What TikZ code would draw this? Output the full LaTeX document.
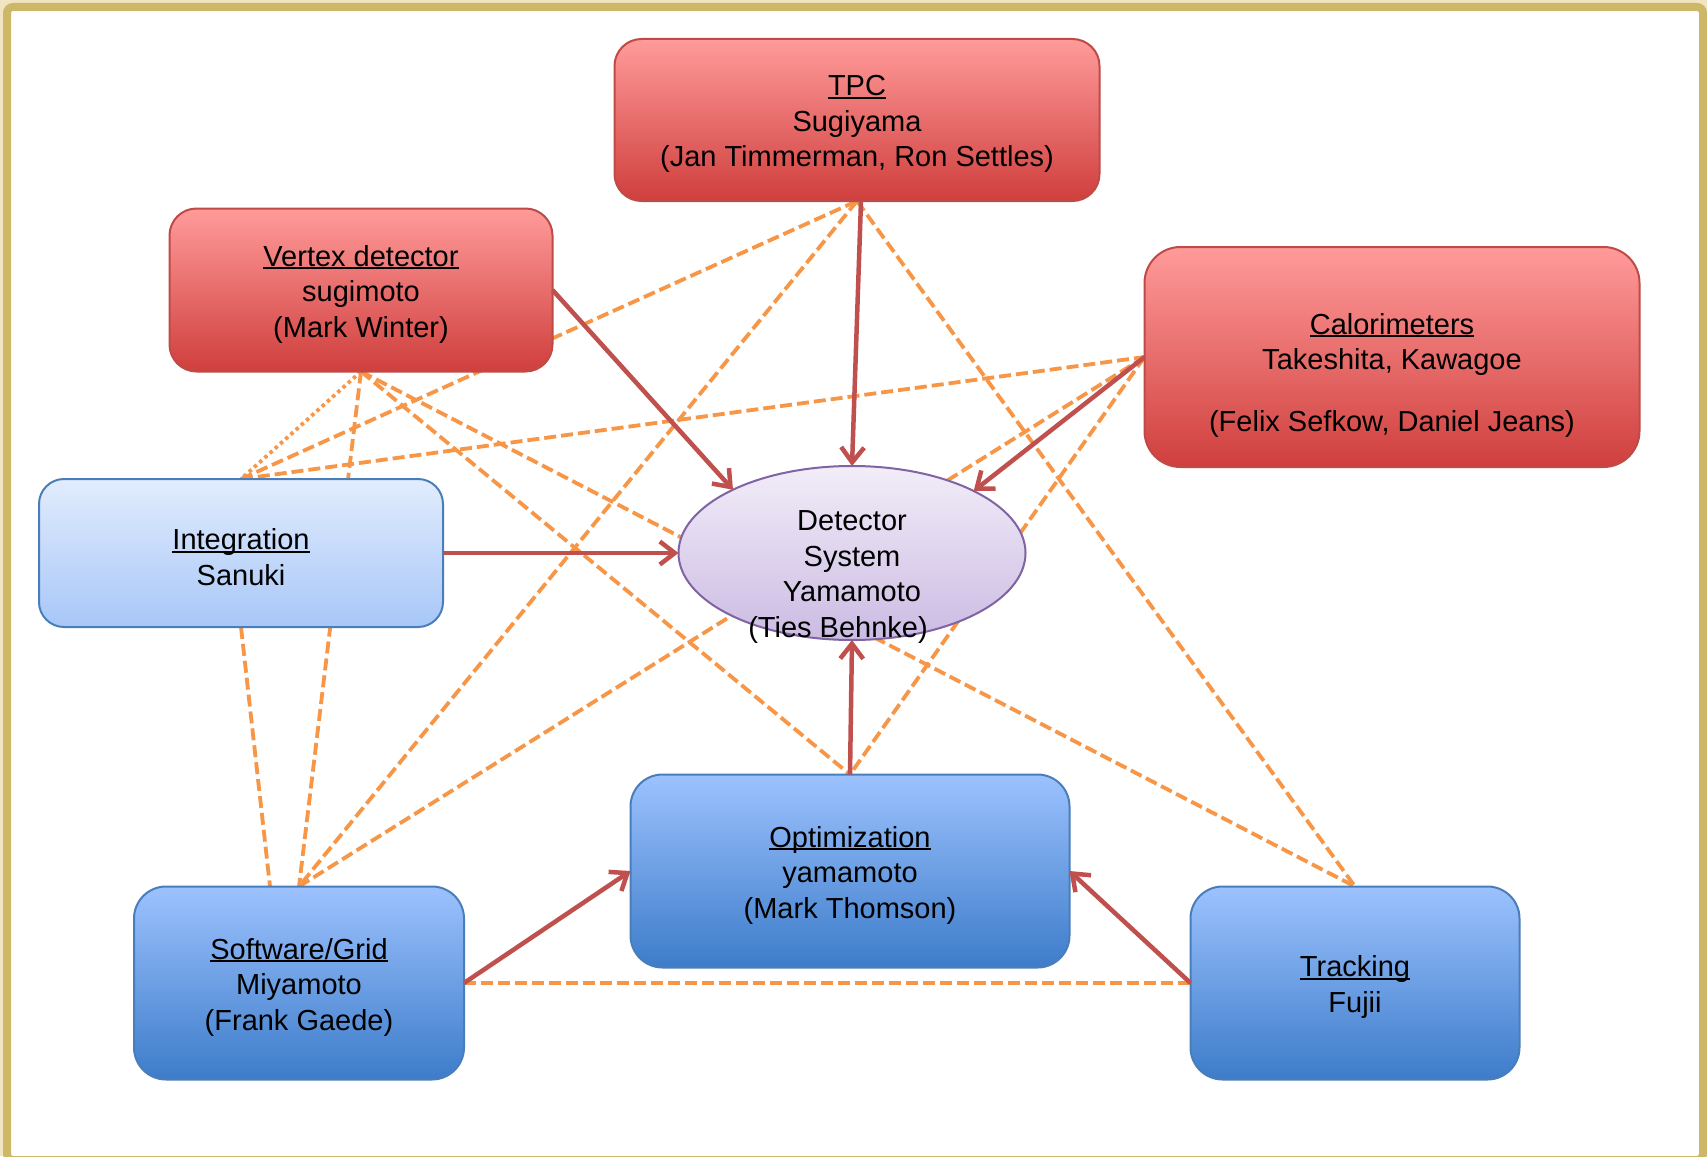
\documentclass[tikz,border=0pt]{standalone}
\usepackage{fontspec}
\setmainfont{Liberation Sans}
\usetikzlibrary{arrows.meta,shapes.geometric,calc}
\definecolor{redtop}{HTML}{FF9B9A}
\definecolor{redbot}{HTML}{CF3F3D}
\definecolor{redline}{HTML}{BE4B48}
\definecolor{bluetop}{HTML}{9CC2FE}
\definecolor{bluebot}{HTML}{3D7CCA}
\definecolor{blueline}{HTML}{4A7EBB}
\definecolor{inttop}{HTML}{E2ECFD}
\definecolor{intbot}{HTML}{A7C7F8}
\definecolor{elltop}{HTML}{F2EDF8}
\definecolor{ellbot}{HTML}{CBBBE3}
\definecolor{ellline}{HTML}{7F63A2}
\definecolor{arrowred}{HTML}{C0504D}
\definecolor{dashorange}{HTML}{F79646}
\definecolor{framegold}{HTML}{CDB868}
\definecolor{paper}{HTML}{F2E3C3}
\newsavebox\ulbox
\newcommand{\myul}[1]{\rule{0pt}{29pt}\sbox\ulbox{#1}\rlap{\rule[-3pt]{\wd\ulbox}{2pt}}\usebox\ulbox}
\pgfdeclarelayer{framelayer}
\pgfdeclarelayer{links}
\pgfdeclarelayer{arrowlayer}
\pgfsetlayers{framelayer,links,main,arrowlayer}
\tikzset{
  boxbase/.style={line width=2pt, inner sep=0pt, outer sep=0pt, align=center},
  redbox/.style={boxbase, draw=redline, top color=redtop, bottom color=redbot, rounded corners=27pt},
  bluebox/.style={boxbase, draw=blueline, top color=bluetop, bottom color=bluebot, rounded corners=32pt},
  intbox/.style={boxbase, draw=blueline, top color=inttop, bottom color=intbot, rounded corners=25pt},
  ellbox/.style={ellipse, line width=2pt, inner sep=0pt, outer sep=0pt, draw=ellline, top color=elltop, bottom color=ellbot},
  txt/.style={align=center, inner sep=0pt},
  dashline/.style={draw=dashorange, line width=3.8pt, dash pattern=on 12pt off 5pt},
  dotline/.style={draw=dashorange, line width=3.8pt, dash pattern=on 3.5pt off 3.5pt},
  redarrow/.style={draw=arrowred, line width=4.5pt, -{Straight Barb[length=15pt,width=23pt]}},
}
\begin{document}
\begin{tikzpicture}[x=1pt, y=-1pt, font=\fontsize{29pt}{35.5pt}\selectfont]
\useasboundingbox (0,0) rectangle (1707,1156);
\begin{pgfonlayer}{framelayer}
  \fill[paper] (0,0) rectangle (1707,1156);
  \draw[framegold, line width=8pt, fill=white, rounded corners=6pt] (7,7) rectangle (1703,1160);
\end{pgfonlayer}

% nodes
\node[redbox, minimum width=485pt, minimum height=162pt] (tpc) at (857,120)
  {\myul{TPC}\\Sugiyama\\(Jan Timmerman, Ron Settles)};
\node[redbox, minimum width=383pt, minimum height=163pt] (vtx) at (361,290)
  {\myul{Vertex detector}\\sugimoto\\(Mark Winter)};
\node[redbox, rounded corners=36pt, minimum width=495pt, minimum height=220pt] (cal) at (1392,357) {};
\node[txt] (caltext) at (1392,371)
  {\myul{Calorimeters}\\Takeshita, Kawagoe\\[26pt](Felix Sefkow, Daniel Jeans)};
\node[intbox, minimum width=404pt, minimum height=148pt] (int) at (241,553)
  {\myul{Integration}\\Sanuki};
\node[ellbox, minimum width=347pt, minimum height=174pt] (ell) at (852,553) {};
\node[txt] (elltext) at (852,577)
  {Detector\\System\\Yamamoto\\(Ties Behnke)\hspace*{28pt}};
\node[bluebox, minimum width=439pt, minimum height=193pt] (opt) at (850,871)
  {\myul{Optimization}\\yamamoto\\(Mark Thomson)};
\node[bluebox, minimum width=330pt, minimum height=193pt] (sw) at (299,983)
  {\myul{Software/Grid}\\Miyamoto\\(Frank Gaede)};
\node[bluebox, minimum width=329pt, minimum height=193pt] (trk) at (1355,983)
  {\myul{Tracking}\\Fujii};
\coordinate (swleft) at ([xshift=-29pt]sw.north);

% dashed relations
\begin{pgfonlayer}{links}
  \draw[dashline] (int.north) -- (tpc.south);
  \draw[dashline] (tpc.south) -- (sw.north);
  \draw[dashline] (tpc.south) -- (trk.north);
  \draw[dotline] (vtx.south) -- (int.north);
  \draw[dashline] (vtx.south) -- (sw.north);
  \draw[dashline] (vtx.south) -- (opt.north);
  \draw[dashline] (vtx.south) -- (trk.north);
  \draw[dashline] (int.north) -- (cal.west);
  \draw[dashline] (int.south) -- (swleft);
  \draw[dashline] (sw.north) -- (cal.west);
  \draw[dashline] (cal.west) -- (opt.north);
  \draw[dashline] (sw.east) -- (trk.west);
\end{pgfonlayer}

% main arrows
\begin{pgfonlayer}{arrowlayer}
  \draw[redarrow] (vtx.east) -- (ell.152);
  \draw[redarrow] ([xshift=4pt]tpc.south) -- (ell.north);
  \draw[redarrow] (cal.west) -- (ell.27);
  \draw[redarrow] (int.east) -- (ell.west);
  \draw[redarrow] (opt.north) -- (ell.south);
  \draw[redarrow] (sw.east) -- (opt.west);
  \draw[redarrow] (trk.west) -- (opt.east);
\end{pgfonlayer}
\end{tikzpicture}
\end{document}
